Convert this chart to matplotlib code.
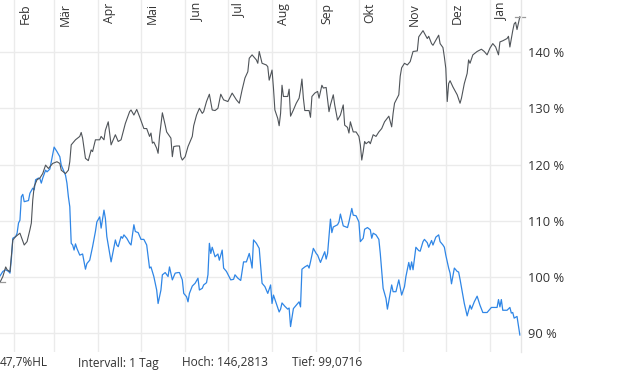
import numpy as np
import matplotlib.pyplot as plt

plt.rcParams['font.family'] = ['Open Sans', 'DejaVu Sans']

# day offsets from the start date and values in %
start = np.datetime64('2023-01-22')
black_days = [0, 2, 4, 5, 7, 9, 11, 14, 17, 19, 21, 22, 23, 24, 26, 28, 30, 32, 34, 37,
              40, 42, 43, 46, 48, 49, 50, 53, 56, 57, 58, 60, 62, 64, 65, 67, 70, 71, 73, 74,
              76, 78, 81, 83, 85, 88, 91, 92, 94, 96, 98, 101, 103, 105, 106, 107, 108, 110, 111, 112,
              114, 116, 117, 120, 121, 122, 124, 126, 127, 128, 130, 132, 135, 136, 138, 140, 142, 143, 145, 147,
              149, 151, 153, 155, 157, 160, 163, 166, 168, 170, 172, 174, 175, 177, 180, 181, 182, 184, 187, 188,
              189, 191, 192, 193, 195, 196, 197, 198, 199, 202, 203, 204, 206, 208, 210, 211, 212, 213, 214, 217,
              218, 219, 221, 223, 224, 226, 227, 229, 231, 232, 234, 235, 237, 239, 241, 242, 244, 245, 246, 248,
              250, 252, 253, 254, 255, 256, 257, 259, 260, 262, 264, 266, 268, 270, 273, 275, 276, 277, 280, 281,
              282, 284, 286, 288, 290, 293, 294, 297, 300, 301, 303, 304, 306, 308, 309, 311, 312, 313, 314, 315,
              316, 318, 321, 323, 324, 326, 328, 329, 330, 332, 335, 338, 340, 342, 344, 346, 348, 350, 351, 353,
              356, 357, 358, 360, 361, 362, 363, 365]
black_vals = [99.07, 100.1, 101.8, 101.3, 100.95, 106.6, 107.2, 107.8, 105.7, 106.3, 108.4, 109.6, 113.7, 116.1, 117.3, 117.6, 118.4, 119.9, 119.3, 120.2,
              120.5, 120.2, 119.0, 118.4, 119.0, 120.5, 123.5, 124.4, 125.0, 125.7, 124.7, 121.1, 120.7, 122.6, 122.3, 124.4, 124.4, 125.0, 124.4, 126.1,
              127.6, 123.5, 125.3, 124.1, 124.4, 127.3, 129.4, 129.7, 128.8, 129.8, 128.5, 126.4, 126.4, 125.0, 125.6, 123.8, 124.0, 122.9, 122.0, 125.0,
              129.2, 127.0, 125.8, 124.7, 121.4, 123.2, 123.3, 123.3, 121.4, 120.8, 121.4, 123.2, 125.0, 126.9, 128.8, 130.0, 129.1, 129.4, 131.2, 132.5,
              129.7, 129.6, 130.0, 132.5, 131.5, 131.2, 132.7, 131.5, 130.9, 133.3, 135.4, 136.5, 138.9, 139.5, 138.6, 138.0, 140.1, 138.0, 137.7, 137.4,
              135.0, 136.8, 133.6, 129.7, 128.2, 126.9, 129.1, 134.1, 132.1, 132.1, 133.4, 128.6, 129.7, 130.9, 131.8, 133.3, 135.2, 131.8, 129.6, 129.6,
              128.4, 132.1, 132.7, 133.0, 131.8, 134.1, 133.6, 133.7, 129.4, 130.6, 132.4, 130.6, 127.9, 128.8, 130.6, 127.0, 126.6, 125.6, 127.6, 125.8,
              125.8, 125.0, 123.5, 120.8, 122.3, 124.1, 123.7, 124.1, 123.7, 125.3, 125.0, 125.8, 126.4, 127.6, 128.6, 126.7, 129.1, 130.9, 132.4, 135.7,
              137.2, 138.0, 137.7, 138.3, 140.1, 140.2, 142.7, 143.8, 142.4, 142.8, 141.5, 141.2, 142.1, 143.0, 141.5, 140.8, 139.1, 137.1, 131.2, 134.4,
              134.9, 133.8, 132.4, 130.9, 131.8, 134.4, 136.2, 138.6, 138.0, 139.5, 140.1, 140.5, 140.1, 139.5, 140.7, 141.5, 140.9, 139.5, 141.8, 142.0,
              142.4, 142.8, 140.9, 143.8, 145.0, 145.3, 144.0, 146.28]

blue_days = [0, 2, 4, 6, 7, 8, 9, 11, 12, 13, 14, 15, 16, 17, 20, 21, 23, 24, 25, 27,
             28, 29, 30, 32, 33, 35, 36, 38, 40, 42, 43, 44, 46, 47, 48, 49, 50, 51, 52, 53,
             54, 56, 58, 60, 61, 63, 64, 65, 67, 68, 70, 71, 73, 74, 75, 77, 78, 81, 82, 83,
             85, 86, 87, 89, 91, 92, 94, 95, 97, 99, 101, 103, 105, 106, 108, 110, 111, 113, 114, 116,
             118, 119, 121, 123, 125, 126, 128, 129, 131, 132, 133, 135, 137, 139, 140, 142, 143, 145, 146, 147,
             148, 149, 151, 153, 154, 156, 157, 159, 162, 164, 165, 167, 169, 171, 173, 175, 176, 177, 178, 180,
             182, 184, 186, 188, 190, 191, 192, 194, 196, 197, 198, 200, 202, 203, 204, 206, 208, 210, 211, 212,
             214, 216, 217, 218, 220, 222, 223, 225, 227, 228, 229, 230, 232, 233, 234, 237, 238, 239, 241, 244,
             245, 247, 248, 250, 252, 253, 255, 256, 258, 260, 261, 262, 264, 266, 267, 269, 271, 272, 274, 275,
             276, 278, 280, 282, 284, 285, 287, 288, 289, 290, 292, 294, 295, 297, 298, 300, 301, 303, 304, 306,
             308, 309, 311, 312, 313, 315, 316, 317, 319, 321, 322, 323, 325, 326, 328, 330, 331, 333, 335, 337,
             339, 342, 345, 349, 350, 351, 352, 353, 356, 358, 359, 360, 361, 363, 365]
blue_vals = [100.2, 101.0, 101.3, 101.0, 100.7, 103.3, 106.9, 107.2, 107.8, 109.6, 110.1, 114.3, 114.7, 113.4, 113.6, 114.9, 115.8, 115.5, 117.3, 117.6,
             117.5, 116.7, 117.6, 119.0, 118.7, 119.2, 120.5, 123.1, 122.3, 121.4, 119.9, 119.3, 118.1, 116.7, 114.3, 112.5, 106.0, 105.7, 104.8, 105.9,
             105.1, 103.9, 104.1, 101.4, 102.4, 103.0, 104.2, 105.4, 108.1, 109.8, 110.7, 108.7, 111.9, 110.4, 107.2, 104.2, 102.7, 106.6, 105.7, 105.4,
             107.2, 106.9, 107.5, 106.9, 106.0, 105.7, 109.3, 108.1, 107.9, 106.7, 106.7, 105.7, 101.6, 101.8, 100.1, 97.7, 95.3, 97.7, 100.4, 100.8,
             100.1, 101.8, 99.5, 100.7, 100.8, 100.8, 99.5, 97.1, 96.5, 95.6, 97.1, 98.4, 98.9, 99.8, 97.7, 98.0, 98.6, 99.0, 100.4, 106.0,
             104.2, 105.3, 103.6, 104.1, 103.0, 104.8, 101.6, 101.0, 99.5, 99.6, 100.4, 99.8, 99.4, 102.7, 102.7, 104.2, 103.0, 101.6, 106.6, 106.0,
             105.1, 98.9, 98.3, 97.1, 98.6, 95.3, 96.8, 95.3, 93.8, 94.3, 95.4, 94.8, 94.3, 94.5, 91.2, 94.4, 95.0, 95.6, 94.7, 101.4,
             101.8, 102.1, 101.6, 102.7, 105.1, 104.2, 103.9, 102.6, 103.9, 104.5, 103.2, 104.2, 110.3, 107.9, 108.9, 109.3, 109.8, 111.2, 109.1, 108.8,
             109.8, 112.2, 111.0, 110.9, 109.8, 106.3, 106.9, 108.5, 108.8, 108.4, 106.9, 107.8, 107.5, 106.7, 104.2, 98.0, 96.2, 94.3, 97.2, 98.6,
             97.4, 97.4, 99.5, 96.8, 98.3, 100.1, 102.6, 101.3, 102.7, 101.3, 105.3, 104.7, 104.6, 106.3, 106.7, 106.1, 105.3, 106.5, 105.7, 107.1,
             107.5, 106.3, 105.7, 105.3, 103.9, 101.6, 100.7, 98.8, 101.6, 101.0, 100.9, 99.6, 96.8, 95.3, 93.1, 95.0, 94.3, 95.6, 96.6, 95.0,
             93.7, 93.7, 94.6, 94.6, 96.0, 94.7, 96.0, 94.1, 94.1, 94.6, 93.6, 93.7, 92.7, 93.0, 89.7]

month_labels = ['Feb', 'Mär', 'Apr', 'Mai', 'Jun', 'Jul', 'Aug', 'Sep', 'Okt', 'Nov', 'Dez', 'Jan']
y_ticks = [90, 100, 110, 120, 130, 140]
info_texts = ['47,7%HL', 'Intervall: 1 Tag', 'Hoch: 146,2813', 'Tief: 99,0716']

months = np.arange('2023-02', '2024-02', dtype='datetime64[M]')
month_days = (months.astype('datetime64[D]') - start).astype(int)

fig = plt.figure(figsize=(6.2, 3.72), dpi=100)
ax = fig.add_axes([0, 20 / 372, 521 / 620, 352 / 372])

grid_c = '#ebebeb'
for d in month_days:
    ax.axvline(d, color=grid_c, lw=1, zorder=0)
for v in y_ticks:
    ax.axhline(v, color=grid_c, lw=1, zorder=0)

ax.plot(blue_days, blue_vals, color='#2f86e6', lw=0.9)
ax.plot(black_days, black_vals, color='#4f5459', lw=0.8)

# high / low markers
lo = int(np.argmin(black_vals))
hi = int(np.argmax(black_vals))
ax.plot([black_days[lo] - 3.5, black_days[lo] + 3.5], [black_vals[lo]] * 2, color='#999999', lw=0.9)
ax.plot([black_days[hi] - 3.5, black_days[hi] + 3.5], [black_vals[hi]] * 2, color='#999999', lw=0.9,
        clip_on=False)

ax.set_xlim(0, 365.8)
ax.set_ylim(86.68, 149.25)

for s in ['top', 'left', 'bottom']:
    ax.spines[s].set_visible(False)
ax.spines['right'].set_color('#e6e6e6')
ax.spines['right'].set_linewidth(1)

ax.set_xticks([])
ax.yaxis.tick_right()
ax.set_yticks(y_ticks)
ax.set_yticklabels([f'{v} %' for v in y_ticks], fontsize=9.3, color='#333333')
ax.tick_params(axis='y', length=0, pad=5)

for d, lab in zip(month_days, month_labels):
    ax.annotate(lab, xy=(d, 1), xycoords=('data', 'axes fraction'), xytext=(11, -3),
                textcoords='offset pixels', rotation=90, ha='center', va='top',
                fontsize=8.8, color='#333333')

for x, t in zip([0, 78, 182, 292], info_texts):
    fig.text(x / 620, 1 - 363 / 372, t, ha='left', va='center', fontsize=8.6, color='#333333')

fig.savefig('out.png', dpi=100)
